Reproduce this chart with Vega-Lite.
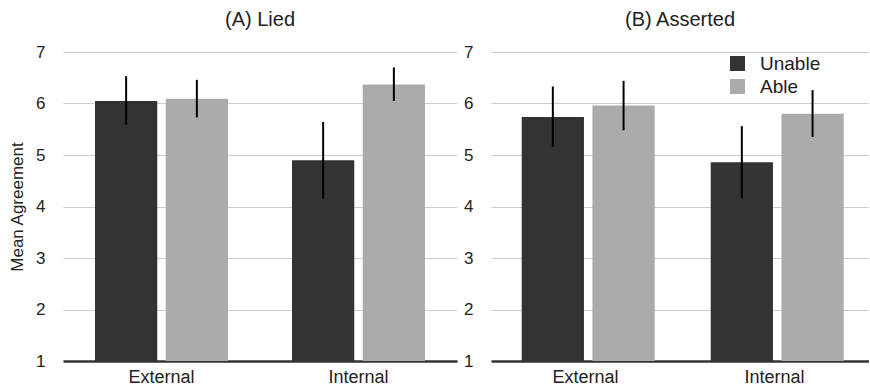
{
  "$schema": "https://vega.github.io/schema/vega-lite/v6.json",
  "padding": {"left": 8, "top": 10, "right": 0, "bottom": 0},
  "background": "white",
  "config": {
    "font": "Liberation Sans",
    "view": {"stroke": null},
    "concat": {"spacing": 6},
    "title": {"fontSize": 20, "fontWeight": "normal", "color": "#222222", "frame": "group", "anchor": "middle", "offset": 13},
    "axisY": {"ticks": false, "domain": false, "gridColor": "#cccccc", "gridWidth": 1, "labelFontSize": 17, "labelColor": "#222222", "labelPadding": 18, "titleFontSize": 17, "titleFontWeight": "normal", "titleColor": "#222222", "titlePadding": 9},
    "axisX": {"ticks": false, "grid": false, "domainColor": "#333333", "domainWidth": 2.5, "labelFontSize": 18, "labelColor": "#222222", "labelPadding": 7, "labelAngle": 0}
  },
  "data": {"values": [
    {"panel": "Lied", "location": "External", "ability": "Unable", "mean": 6.05, "lo": 5.59, "hi": 6.53},
    {"panel": "Lied", "location": "External", "ability": "Able", "mean": 6.09, "lo": 5.73, "hi": 6.46},
    {"panel": "Lied", "location": "Internal", "ability": "Unable", "mean": 4.90, "lo": 4.15, "hi": 5.64},
    {"panel": "Lied", "location": "Internal", "ability": "Able", "mean": 6.37, "lo": 6.05, "hi": 6.70},
    {"panel": "Asserted", "location": "External", "ability": "Unable", "mean": 5.74, "lo": 5.16, "hi": 6.33},
    {"panel": "Asserted", "location": "External", "ability": "Able", "mean": 5.96, "lo": 5.48, "hi": 6.44},
    {"panel": "Asserted", "location": "Internal", "ability": "Unable", "mean": 4.86, "lo": 4.16, "hi": 5.56},
    {"panel": "Asserted", "location": "Internal", "ability": "Able", "mean": 5.80, "lo": 5.35, "hi": 6.26}
  ]},
  "resolve": {"legend": {"color": "independent"}},
  "hconcat": [
    {
      "title": "(A) Lied",
      "width": 394,
      "height": 309,
      "transform": [{"filter": "datum.panel === 'Lied'"}],
      "encoding": {
        "x": {"field": "location", "type": "nominal", "sort": ["External", "Internal"], "scale": {"paddingInner": 0.325, "paddingOuter": 0.1625}, "axis": {"title": null}},
        "xOffset": {"field": "ability", "type": "nominal", "sort": ["Unable", "Able"], "scale": {"paddingInner": 0.12}}
      },
      "layer": [
        {
          "mark": {"type": "bar"},
          "encoding": {
            "y": {"field": "mean", "type": "quantitative", "scale": {"domain": [1, 7], "nice": false, "zero": false}, "axis": {"values": [1, 2, 3, 4, 5, 6, 7], "title": "Mean Agreement"}},
            "y2": {"datum": 1},
            "color": {"field": "ability", "type": "nominal", "scale": {"domain": ["Unable", "Able"], "range": ["#333333", "#ababab"]}, "legend": null}
          }
        },
        {
          "mark": {"type": "rule", "color": "black", "strokeWidth": 2},
          "encoding": {
            "y": {"field": "lo", "type": "quantitative"},
            "y2": {"field": "hi"}
          }
        }
      ]
    },
    {
      "title": "(B) Asserted",
      "width": 378,
      "height": 309,
      "transform": [{"filter": "datum.panel === 'Asserted'"}],
      "encoding": {
        "x": {"field": "location", "type": "nominal", "sort": ["External", "Internal"], "scale": {"paddingInner": 0.325, "paddingOuter": 0.1625}, "axis": {"title": null}},
        "xOffset": {"field": "ability", "type": "nominal", "sort": ["Unable", "Able"], "scale": {"paddingInner": 0.12}}
      },
      "layer": [
        {
          "mark": {"type": "bar"},
          "encoding": {
            "y": {"field": "mean", "type": "quantitative", "scale": {"domain": [1, 7], "nice": false, "zero": false}, "axis": {"values": [1, 2, 3, 4, 5, 6, 7], "title": null}},
            "y2": {"datum": 1},
            "color": {"field": "ability", "type": "nominal", "scale": {"domain": ["Unable", "Able"], "range": ["#333333", "#ababab"]}, "legend": {"title": null, "orient": "none", "legendX": 237, "legendY": 2, "padding": 0, "symbolType": "square", "symbolSize": 225, "symbolStrokeWidth": 0, "symbolOpacity": 1, "labelFontSize": 19, "labelColor": "#222222", "labelOffset": 13, "rowPadding": 3}}
          }
        },
        {
          "mark": {"type": "rule", "color": "black", "strokeWidth": 2},
          "encoding": {
            "y": {"field": "lo", "type": "quantitative"},
            "y2": {"field": "hi"}
          }
        }
      ]
    }
  ]
}
